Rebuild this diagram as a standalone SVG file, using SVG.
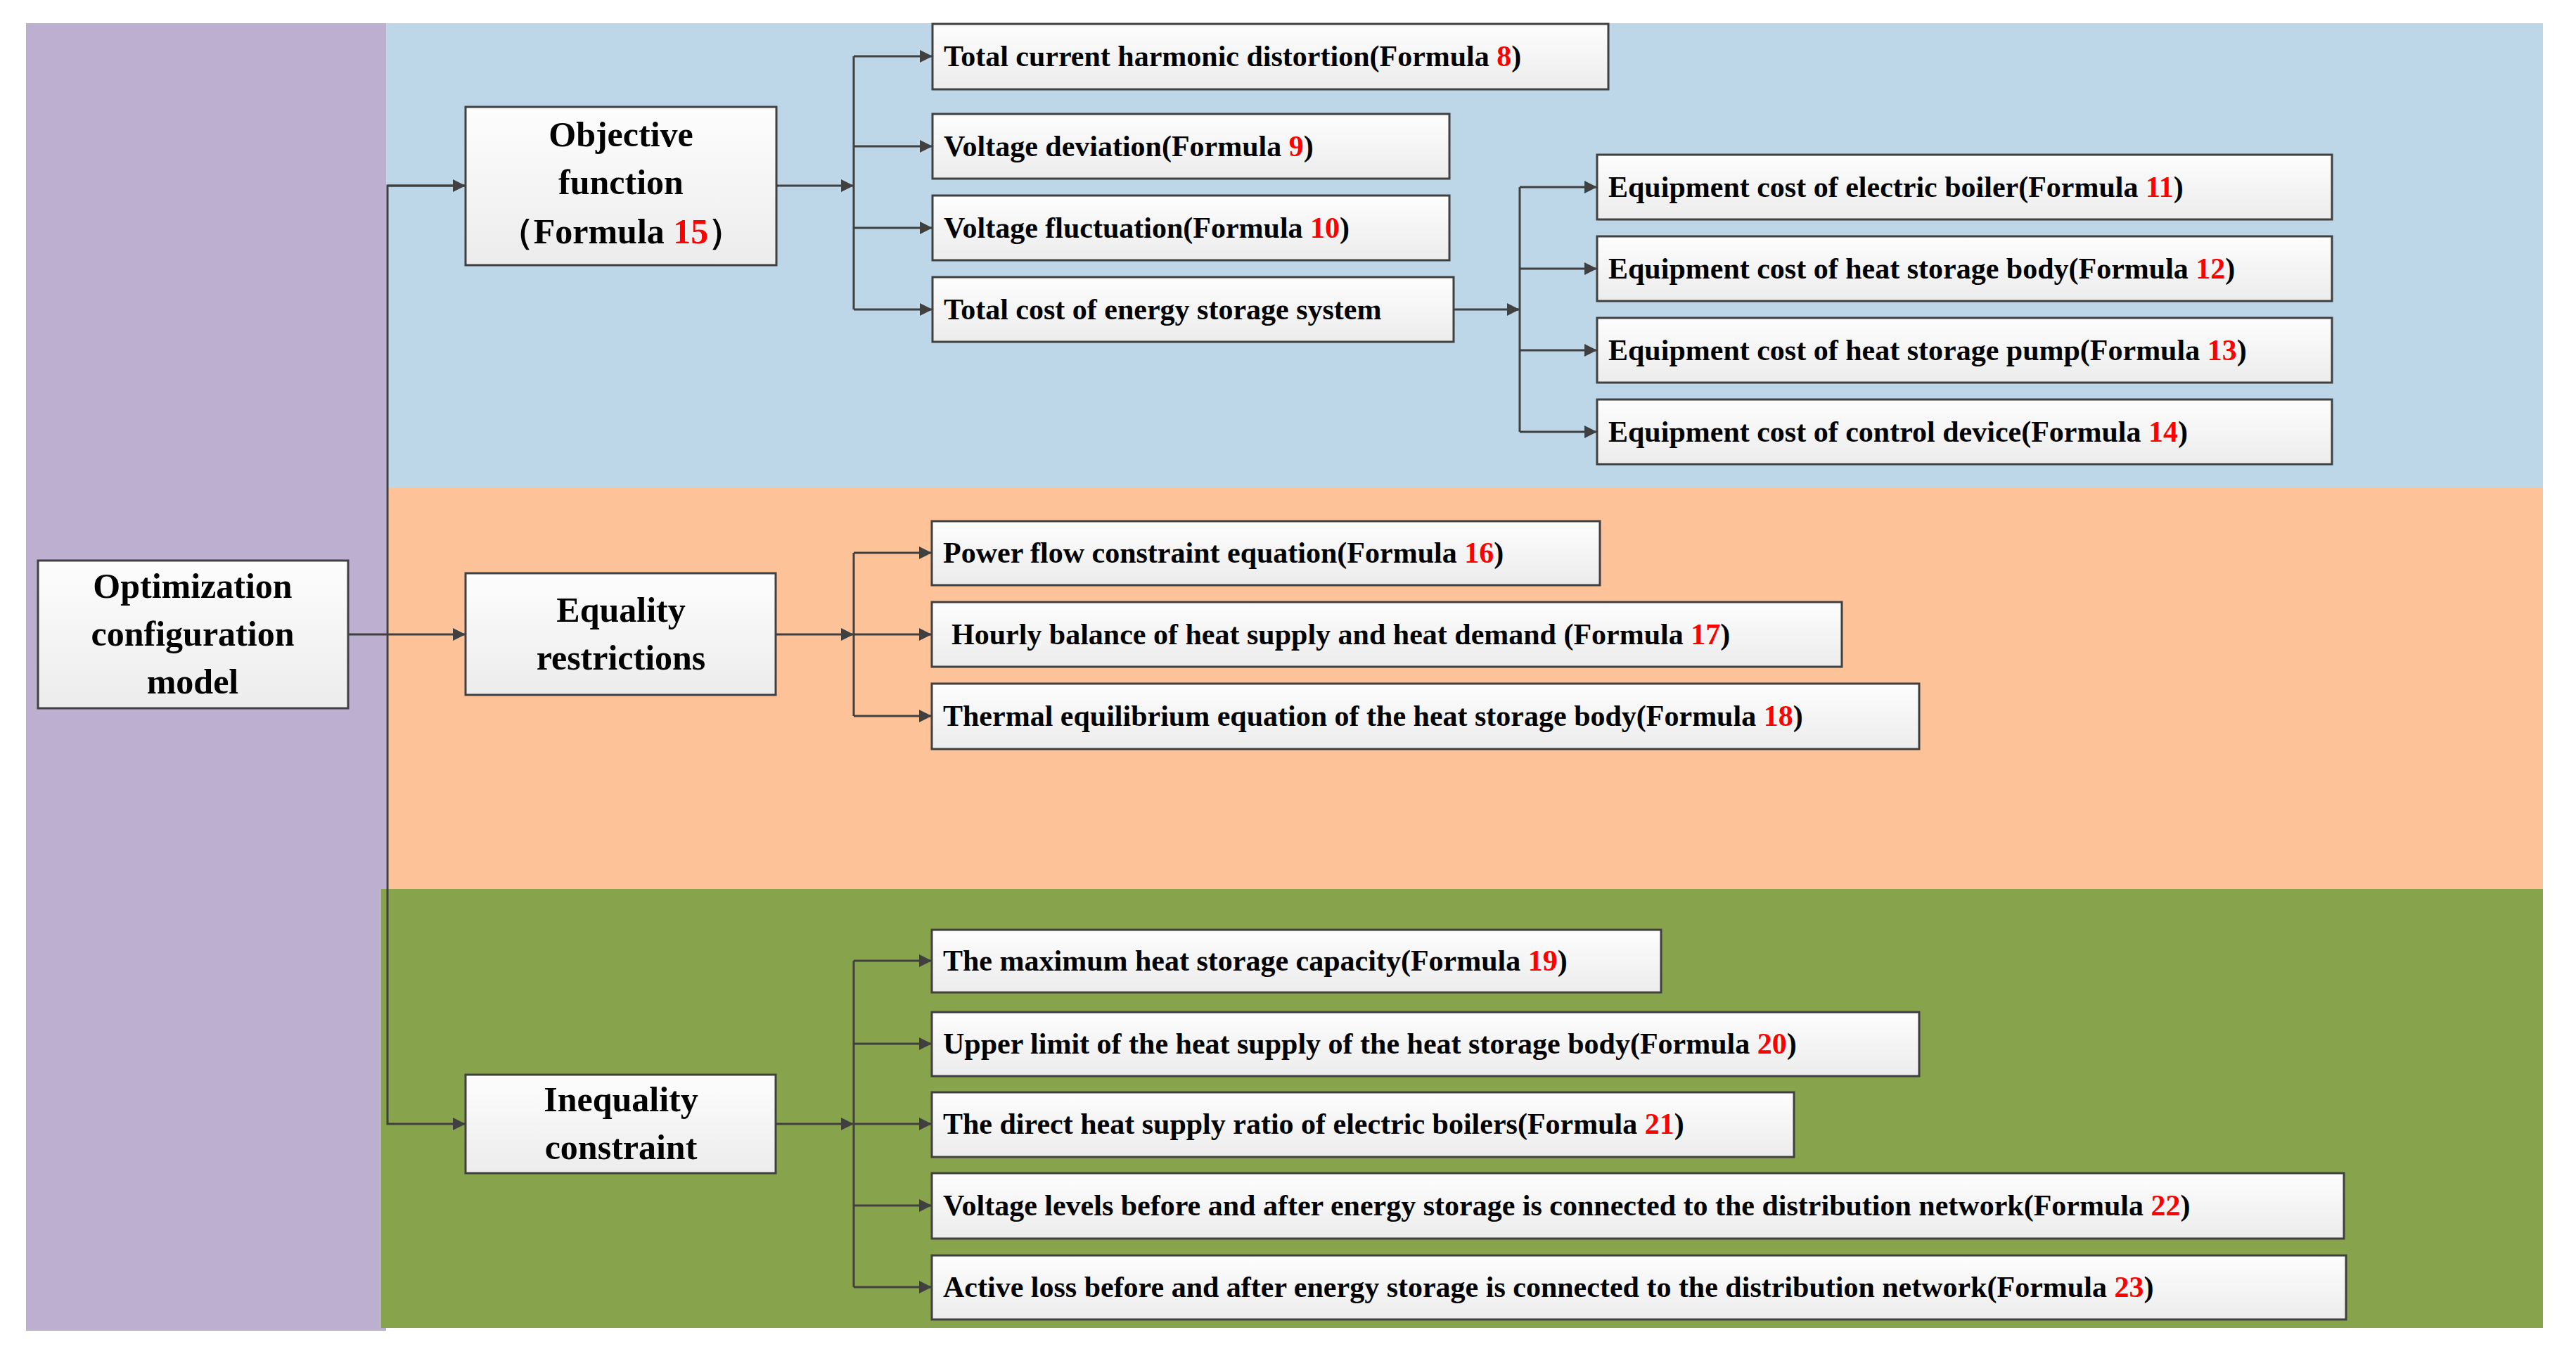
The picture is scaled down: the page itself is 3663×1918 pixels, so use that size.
<svg xmlns="http://www.w3.org/2000/svg" width="3663" height="1918" viewBox="0 0 3663 1918">
<style>
.b{fill:url(#g);stroke:#404040;stroke-width:3}
.t{font-family:"Liberation Serif",serif;font-weight:bold;font-size:42px;fill:#000}
.T{font-family:"Liberation Serif",serif;font-weight:bold;font-size:50px;fill:#000;text-anchor:middle}
.r{fill:#f00}
.c{fill:none;stroke:#404040;stroke-width:3}
</style>
<defs>
<linearGradient id="g" x1="0" y1="0" x2="0" y2="1"><stop offset="0" stop-color="#fdfdfd"/><stop offset="1" stop-color="#ececec"/></linearGradient>
<marker id="a" markerWidth="10" markerHeight="10" refX="9" refY="5" orient="auto" markerUnits="userSpaceOnUse" viewBox="0 0 10 10"><path d="M0,0L10,5L0,10z" fill="#404040"/></marker>
<marker id="A" viewBox="0 0 10 10" refX="10" refY="5" markerWidth="18" markerHeight="18" orient="auto" markerUnits="userSpaceOnUse"><path d="M0,0L10,5L0,10z" fill="#404040"/></marker>
</defs>
<rect width="3663" height="1918" fill="#fff"/>
<rect x="37" y="33" width="512" height="1859" fill="#BDAFD0"/>
<rect x="549" y="33" width="3067" height="661" fill="#BDD7E8"/>
<rect x="549" y="694" width="3067" height="570" fill="#FDC298"/>
<rect x="542" y="1264" width="3074" height="624" fill="#87A34B"/>
<g id="connectors">
<path class="c" d="M495,902H662" marker-end="url(#A)"/>
<path class="c" d="M662,264H551V1598H662" marker-end="url(#A)"/>
<path class="c" d="M551,264H662" marker-end="url(#A)"/>
<path class="c" d="M1104,264H1214" marker-end="url(#A)"/>
<path class="c" d="M1214,80V440"/>
<path class="c" d="M1214,80H1326" marker-end="url(#A)"/>
<path class="c" d="M1214,208H1326" marker-end="url(#A)"/>
<path class="c" d="M1214,324H1326" marker-end="url(#A)"/>
<path class="c" d="M1214,440H1326" marker-end="url(#A)"/>
<path class="c" d="M2067,440H2161" marker-end="url(#A)"/>
<path class="c" d="M2161,266V614"/>
<path class="c" d="M2161,266H2271" marker-end="url(#A)"/>
<path class="c" d="M2161,382H2271" marker-end="url(#A)"/>
<path class="c" d="M2161,498H2271" marker-end="url(#A)"/>
<path class="c" d="M2161,614H2271" marker-end="url(#A)"/>
<path class="c" d="M1103,902H1214" marker-end="url(#A)"/>
<path class="c" d="M1214,786V1018"/>
<path class="c" d="M1214,786H1325" marker-end="url(#A)"/>
<path class="c" d="M1214,902H1325" marker-end="url(#A)"/>
<path class="c" d="M1214,1018H1325" marker-end="url(#A)"/>
<path class="c" d="M1103,1598H1214" marker-end="url(#A)"/>
<path class="c" d="M1214,1366V1830"/>
<path class="c" d="M1214,1366H1325" marker-end="url(#A)"/>
<path class="c" d="M1214,1484H1325" marker-end="url(#A)"/>
<path class="c" d="M1214,1598H1325" marker-end="url(#A)"/>
<path class="c" d="M1214,1714H1325" marker-end="url(#A)"/>
<path class="c" d="M1214,1830H1325" marker-end="url(#A)"/>
</g>
<g id="root"><rect class="b" x="54" y="797" width="441" height="210"/>
<text class="T" x="274" y="850">Optimization</text><text class="T" x="274" y="918">configuration</text><text class="T" x="274" y="986">model</text></g>
<g id="obj"><rect class="b" x="662" y="152" width="442" height="225"/>
<text class="T" x="883" y="208">Objective</text><text class="T" x="883" y="276">function</text><text class="T" x="883" y="346">（Formula <tspan class="r">15</tspan>）</text></g>
<g id="eq"><rect class="b" x="662" y="815" width="441" height="173"/>
<text class="T" x="883" y="884">Equality</text><text class="T" x="883" y="952">restrictions</text></g>
<g id="ineq"><rect class="b" x="662" y="1528" width="441" height="140"/>
<text class="T" x="883" y="1580">Inequality</text><text class="T" x="883" y="1648">constraint</text></g>
<g id="o1"><rect class="b" x="1326" y="34" width="961" height="93"/><text class="t" x="1342" y="94">Total current harmonic distortion(Formula <tspan class="r">8</tspan>)</text></g>
<g id="o2"><rect class="b" x="1326" y="162" width="735" height="92"/><text class="t" x="1342" y="222">Voltage deviation(Formula <tspan class="r">9</tspan>)</text></g>
<g id="o3"><rect class="b" x="1326" y="278" width="735" height="92"/><text class="t" x="1342" y="338">Voltage fluctuation(Formula <tspan class="r">10</tspan>)</text></g>
<g id="o4"><rect class="b" x="1326" y="394" width="741" height="92"/><text class="t" x="1342" y="454">Total cost of energy storage system</text></g>
<g id="c1"><rect class="b" x="2271" y="220" width="1045" height="92"/><text class="t" x="2287" y="280">Equipment cost of electric boiler(Formula <tspan class="r">11</tspan>)</text></g>
<g id="c2"><rect class="b" x="2271" y="336" width="1045" height="92"/><text class="t" x="2287" y="396">Equipment cost of heat storage body(Formula <tspan class="r">12</tspan>)</text></g>
<g id="c3"><rect class="b" x="2271" y="452" width="1045" height="92"/><text class="t" x="2287" y="512">Equipment cost of heat storage pump(Formula <tspan class="r">13</tspan>)</text></g>
<g id="c4"><rect class="b" x="2271" y="568" width="1045" height="92"/><text class="t" x="2287" y="628">Equipment cost of control device(Formula <tspan class="r">14</tspan>)</text></g>
<g id="e1"><rect class="b" x="1325" y="741" width="950" height="91"/><text class="t" x="1341" y="800">Power flow constraint equation(Formula <tspan class="r">16</tspan>)</text></g>
<g id="e2"><rect class="b" x="1325" y="856" width="1294" height="92"/><text class="t" x="1353" y="916">Hourly balance of heat supply and heat demand (Formula <tspan class="r">17</tspan>)</text></g>
<g id="e3"><rect class="b" x="1325" y="972" width="1404" height="93"/><text class="t" x="1341" y="1032">Thermal equilibrium equation of the heat storage body(Formula <tspan class="r">18</tspan>)</text></g>
<g id="i1"><rect class="b" x="1325" y="1322" width="1037" height="89"/><text class="t" x="1341" y="1380">The maximum heat storage capacity(Formula <tspan class="r">19</tspan>)</text></g>
<g id="i2"><rect class="b" x="1325" y="1439" width="1404" height="91"/><text class="t" x="1341" y="1498">Upper limit of the heat supply of the heat storage body(Formula <tspan class="r">20</tspan>)</text></g>
<g id="i3"><rect class="b" x="1325" y="1553" width="1226" height="92"/><text class="t" x="1341" y="1612">The direct heat supply ratio of electric boilers(Formula <tspan class="r">21</tspan>)</text></g>
<g id="i4"><rect class="b" x="1325" y="1668" width="2008" height="93"/><text class="t" x="1341" y="1728">Voltage levels before and after energy storage is connected to the distribution network(Formula <tspan class="r">22</tspan>)</text></g>
<g id="i5"><rect class="b" x="1325" y="1785" width="2011" height="91"/><text class="t" x="1341" y="1844">Active loss before and after energy storage is connected to the distribution network(Formula <tspan class="r">23</tspan>)</text></g>
</svg>
